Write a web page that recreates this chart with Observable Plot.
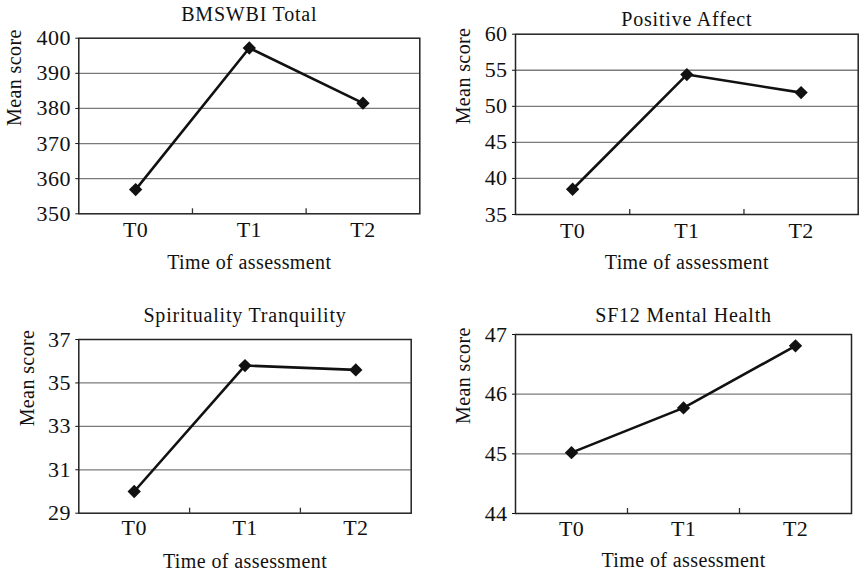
<!DOCTYPE html>
<html>
<head>
<meta charset="utf-8">
<script src="https://cdn.jsdelivr.net/npm/d3@7"></script>
<script src="https://cdn.jsdelivr.net/npm/@observablehq/plot@0.6"></script>
<style>
  html, body { margin: 0; padding: 0; background: #fff; }
  #root { position: relative; width: 860px; height: 573px; background: #fff; }
  .panel { position: absolute; }
  .panel svg text { letter-spacing: 0.4px; }
  .panel svg .ptitle text { letter-spacing: 0.8px; }
</style>
</head>
<body>
<div id="root"></div>
<script>
// ---- data ----
const categories = ["T0", "T1", "T2"];
const titles = ["BMSWBI Total", "Positive Affect", "Spirituality Tranquility", "SF12 Mental Health"];
const bmswbiTotal = [356.9, 397.2, 381.5];
const positiveAffect = [38.5, 54.4, 51.9];
const spiritualityTranquility = [30.0, 35.8, 35.6];
const sf12MentalHealth = [45.02, 45.77, 46.81];
const ticksBmswbi = [350, 360, 370, 380, 390, 400];
const ticksPositive = [35, 40, 45, 50, 55, 60];
const ticksSpirit = [29, 31, 33, 35, 37];
const ticksSf12 = [44, 45, 46, 47];
const xLabel = "Time of assessment";
const yLabel = "Mean score";

const FONT = "'Liberation Serif', 'Times New Roman', Times, serif";

function panel(cfg) {
  const data = cfg.values.map((v, i) => ({t: i + 0.5, v}));
  const plotH = cfg.H - cfg.m.top - cfg.m.bottom;
  const yTicks = cfg.ticks;
  return Plot.plot({
    width: cfg.W,
    height: cfg.H,
    marginTop: cfg.m.top,
    marginRight: cfg.m.right,
    marginBottom: cfg.m.bottom,
    marginLeft: cfg.m.left,
    style: {fontFamily: FONT, fontSize: "20px", background: "transparent", color: "#111", overflow: "visible"},
    x: {domain: [0, categories.length], axis: null},
    y: {domain: [yTicks[0], yTicks[yTicks.length - 1]], axis: null},
    marks: [
      Plot.ruleY(yTicks.slice(1, -1), {stroke: "#7a7a7a", strokeWidth: 1.3}),
      Plot.ruleX(d3.range(1, categories.length), {stroke: "#333", strokeWidth: 1.3, insetTop: plotH - 5}),
      Plot.frame({stroke: "#222", strokeWidth: 1.5}),
      Plot.axisY({ticks: yTicks, tickFormat: d3.format("d"), tickSize: 3, tickPadding: 5, label: null, fontSize: 22}),
      Plot.axisX({ticks: categories.map((c, i) => i + 0.5), tickFormat: d => categories[Math.floor(d)], tickSize: 0, tickPadding: cfg.xTickPad, label: null, fontSize: 22}),
      Plot.line(data, {x: "t", y: "v", stroke: "#111", strokeWidth: 2.6}),
      Plot.dot(data, {x: "t", y: "v", symbol: "diamond2", r: 6, fill: "#111", stroke: "none"}),
      Plot.text([cfg.title], {frameAnchor: "top", dy: cfg.titleDy, lineAnchor: "bottom", fontSize: 20, fill: "#111", className: "ptitle"}),
      Plot.text([xLabel], {frameAnchor: "bottom", dy: cfg.xLabelDy, lineAnchor: "bottom", fontSize: 20, fill: "#111"}),
      Plot.text([yLabel], {frameAnchor: "left", dx: cfg.yLabelDx, rotate: -90, lineAnchor: "bottom", fontSize: 20, fill: "#111"})
    ]
  });
}

const panels = [
  {x: 0, y: 0, W: 430, H: 290, m: {top: 37.7, right: 10.7, bottom: 76.7, left: 78.3},
   title: titles[0], values: bmswbiTotal, ticks: ticksBmswbi, titleDy: -17, xTickPad: 7.5, xLabelDy: 55, yLabelDx: -57.5},
  {x: 430, y: 0, W: 430, H: 290, m: {top: 33.7, right: 2.3, bottom: 76, left: 85},
   title: titles[1], values: positiveAffect, ticks: ticksPositive, titleDy: -8.7, xTickPad: 7.5, xLabelDy: 54.3, yLabelDx: -45.7},
  {x: 0, y: 290, W: 430, H: 283, m: {top: 49, right: 19.3, bottom: 60.3, left: 78.3},
   title: titles[2], values: spiritualityTranquility, ticks: ticksSpirit, titleDy: -17.3, xTickPad: 6.5, xLabelDy: 54.3, yLabelDx: -45},
  {x: 430, y: 290, W: 430, H: 283, m: {top: 44, right: 9, bottom: 60, left: 85},
   title: titles[3], values: sf12MentalHealth, ticks: ticksSf12, titleDy: -12.3, xTickPad: 6.5, xLabelDy: 53.7, yLabelDx: -45.7}
];

const root = document.getElementById("root");
for (const p of panels) {
  const div = document.createElement("div");
  div.className = "panel";
  div.style.left = p.x + "px";
  div.style.top = p.y + "px";
  div.appendChild(panel(p));
  root.appendChild(div);
}
</script>
</body>
</html>
